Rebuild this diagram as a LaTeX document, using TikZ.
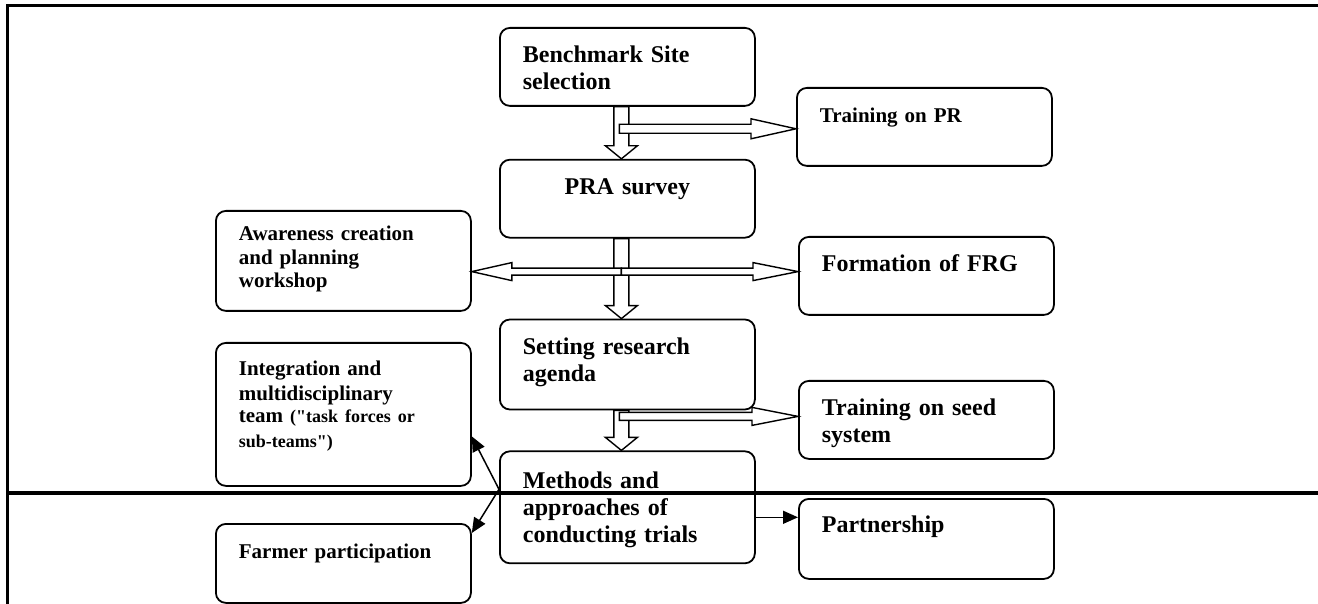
\documentclass[tikz,border=0pt]{standalone}
\usepackage{fontspec}
\setmainfont{Liberation Serif}
\newfontfamily\plainserif{Liberation Serif}
\newcommand{\dq}{{\plainserif\bfseries\symbol{34}}}
\usepackage{tikz}
\usetikzlibrary{arrows.meta, positioning, calc}
\tikzset{
    box/.style={rectangle, draw, line width=0.9pt, rounded corners=5pt, text width=104.5pt, inner xsep=11.5pt, inner ysep=0pt, text height=17.5pt, text depth=21.5pt, align=left},
    bigbox/.style={box, font=\fontsize{12}{13.5}\selectfont\bfseries},
    midbox/.style={box, font=\fontsize{10.5}{11.75}\selectfont\bfseries},
    hollow/.style={draw, fill=white, line width=0.7pt},
    line/.style={draw, line width=0.75pt, -{Triangle[length=7.5pt, width=6.5pt]}},
    rule/.style={line width=1.5pt},
    divider/.style={line width=2.2pt}
}
% outlined block arrow: start, end, half shaft, half head, head length
\newcommand{\hollowarrow}[5]{%
  \path[hollow] let \p1=(#1), \p2=(#2), \n1={atan2((\y2)-(\y1),(\x2)-(\x1))} in
    ($(\p1)+(\n1+90:#3)$) -- ($(\p2)!#5!(\p1)+(\n1+90:#3)$)
    -- ($(\p2)!#5!(\p1)+(\n1+90:#4)$) -- (\p2)
    -- ($(\p2)!#5!(\p1)+(\n1-90:#4)$) -- ($(\p2)!#5!(\p1)+(\n1-90:#3)$)
    -- ($(\p1)+(\n1-90:#3)$) -- cycle;}

\begin{document}
\begin{tikzpicture}[x=0.5pt, y=-0.5pt, node distance=26pt]
    \useasboundingbox (0,0) rectangle (1318,604);
    % Frame
    \draw[rule] (7,604) -- (7,6) -- (1318,6);

    % Centre column
    \node[bigbox, anchor=north west] (bench) at (499,27) {Benchmark Site\\selection};
    \node[bigbox, below=26pt of bench, align=center] (pra) {PRA survey};
    \node[bigbox, below=40pt of pra, text depth=27.5pt] (setting) {Setting research\\agenda};
    \node[bigbox, below=20pt of setting, text height=18.5pt, text depth=37.5pt] (methods) {Methods and\\approaches of\\conducting trials};

    % Right column
    \node[midbox, anchor=north west] (trainpr) at (796,87) {Training on PR};
    \node[bigbox, anchor=north west] (frg) at (798,236) {Formation of FRG};
    \node[bigbox, anchor=north west] (seed) at (798,380) {Training on seed\\system};
    \node[bigbox, anchor=north west, text height=17pt, text depth=23pt] (partner) at (798,498) {Partnership};

    % Left column
    \node[midbox, anchor=north west, text height=15pt, text depth=35pt] (aware) at (215,210) {Awareness creation\\and planning\\workshop};
    \node[midbox, anchor=north west, text height=16.5pt, text depth=55pt, font=\fontsize{10.5}{12.5}\selectfont\bfseries] (integ) at (215,342) {Integration and\\multidisciplinary\\team {\fontsize{9}{11}\selectfont (\dq task forces or\\sub-teams\dq)}};
    \node[midbox, anchor=north west, text height=17.5pt, text depth=22pt] (farmer) at (215,523) {Farmer participation};

    % Main flow
    \hollowarrow{[xshift=-3pt]bench.south}{[xshift=-3pt]pra.north}{3.75pt}{8pt}{6.5pt}
    \hollowarrow{[xshift=-3pt]pra.south}{[xshift=-3pt]setting.north}{3.75pt}{8pt}{6.5pt}
    \hollowarrow{[xshift=-3pt]setting.south}{[xshift=-3pt]methods.north}{3.75pt}{8pt}{6.5pt}

    % Branches
    \coordinate (prfork) at ($(bench.south)+(-4pt,-11pt)$);
    \hollowarrow{prfork}{trainpr.west |- prfork}{2.25pt}{5pt}{22.5pt}
    \coordinate (fork) at ($(pra.south)+(-3pt,-16.5pt)$);
    \hollowarrow{fork}{aware.east |- fork}{1.75pt}{4.5pt}{20pt}
    \hollowarrow{fork}{frg.west |- fork}{1.75pt}{4.5pt}{22.5pt}
    \coordinate (seedfork) at ($(setting.south)+(-4pt,-3pt)$);
    \hollowarrow{seedfork}{seed.west |- seedfork}{2pt}{4.5pt}{23pt}

    % Methods links
    \draw[line] ([yshift=9pt]methods.west) -- ([yshift=-11pt]integ.east);
    \draw[line] ([yshift=9pt]methods.west) -- ([yshift=-5pt]farmer.north east);
    \draw[line] ([yshift=-5pt]methods.east) -- ([yshift=-5pt]methods.east -| partner.west);

    \draw[divider] (7,493) -- (1318,493);
\end{tikzpicture}
\end{document}
